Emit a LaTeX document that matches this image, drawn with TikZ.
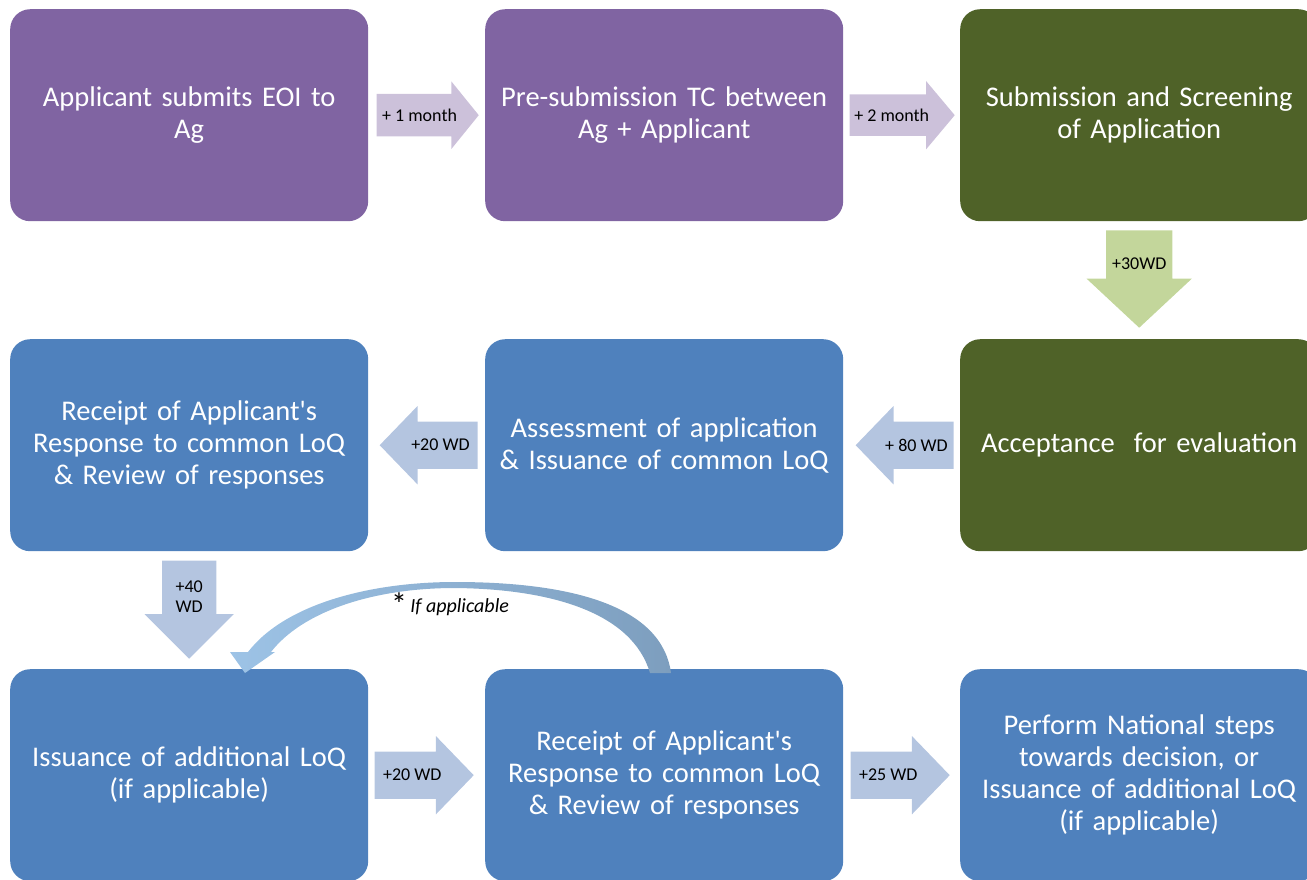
\documentclass[tikz,border=0pt]{standalone}
\usepackage{fontspec}
\setmainfont{Carlito}
\usetikzlibrary{matrix,positioning,calc,shapes.arrows}

\definecolor{stagepurple}{HTML}{8064A2}
\definecolor{stagegreen}{HTML}{4F6228}
\definecolor{stageblue}{HTML}{4F81BD}
\definecolor{stepPurple}{HTML}{CCC1DA}
\definecolor{stepGreen}{HTML}{C3D69B}
\definecolor{stepBlue}{HTML}{B4C5E0}
\definecolor{loopLeft}{HTML}{9DC3E6}
\definecolor{loopRight}{HTML}{7D9EBE}

\tikzset{
  stagebox/.style={rounded corners=20pt, minimum width=358pt, minimum height=212pt,
    text width=344pt, align=center, text=white, inner sep=0pt, anchor=center,
    font=\fontsize{28.5}{32}\selectfont},
  steparrow/.style={single arrow, anchor=tip},
  steplabel/.style={align=center, text=black, inner sep=0pt,
    font=\fontsize{18}{20}\selectfont}
}

\begin{document}
\begin{tikzpicture}[x=1pt, y=-1pt]
  \useasboundingbox (0,0) rectangle (1307,880);
  \matrix(flow)[matrix of nodes, anchor=north west, inner sep=0pt, nodes={stagebox},
      column sep=117pt, row sep=118pt] at (10,9)
  {
    |[fill=stagepurple]| {Applicant submits EOI to\\Ag} &
    |[fill=stagepurple]| {Pre-submission TC between\\Ag + Applicant} &
    |[fill=stagegreen]| {Submission and Screening\\of Application} \\
    |[fill=stageblue]| {Receipt of Applicant\textquotesingle s\\Response to common LoQ\\\& Review of responses} &
    |[fill=stageblue]| {Assessment of application\\\& Issuance of common LoQ} &
    |[fill=stagegreen]| {Acceptance \ for evaluation} \\
    |[fill=stageblue]| {Issuance of additional LoQ\\(if applicable)} &
    |[fill=stageblue]| {Receipt of Applicant\textquotesingle s\\Response to common LoQ\\\& Review of responses} &
    |[fill=stageblue]| {Perform National steps\\towards decision, or\\Issuance of additional LoQ\\(if applicable)} \\
  };
  % timing arrows
  \node[steparrow, fill=stepPurple, inner sep=21pt, minimum height=102pt,
    single arrow head extend=12.5pt, single arrow tip angle=102]
    (a1) at ([xshift=-6pt]flow-1-2.west) {};
  \node[steparrow, fill=stepPurple, inner sep=20.5pt, minimum height=105pt,
    single arrow head extend=13.5pt, single arrow tip angle=100]
    (a2) at ([xshift=-5pt]flow-1-3.west) {};
  \node[steparrow, fill=stepGreen, inner sep=33pt, minimum height=97pt,
    single arrow head extend=19.5pt, single arrow tip angle=94, shape border rotate=270]
    (a3) at ([yshift=11pt]flow-2-3.north) {};
  \node[steparrow, fill=stepBlue, inner sep=23.5pt, minimum height=98pt,
    single arrow head extend=15.5pt, single arrow tip angle=92, shape border rotate=180]
    (a4) at ([xshift=11pt]flow-2-1.east) {};
  \node[steparrow, fill=stepBlue, inner sep=23.5pt, minimum height=98pt,
    single arrow head extend=15.5pt, single arrow tip angle=92, shape border rotate=180]
    (a5) at ([xshift=12pt]flow-2-2.east) {};
  \node[steparrow, fill=stepBlue, inner sep=27pt, minimum height=98pt,
    single arrow head extend=17.5pt, single arrow tip angle=90, shape border rotate=270]
    (a6) at ([yshift=10pt]flow-3-1.north) {};
  \node[steparrow, fill=stepBlue, inner sep=23.5pt, minimum height=99pt,
    single arrow head extend=15.5pt, single arrow tip angle=92]
    (a7) at ([xshift=-11pt]flow-3-2.west) {};
  \node[steparrow, fill=stepBlue, inner sep=23.5pt, minimum height=99pt,
    single arrow head extend=15.5pt, single arrow tip angle=92]
    (a8) at ([xshift=-10pt]flow-3-3.west) {};
  % labels on the arrows
  \node[steplabel] (l1) at ($(a1.tail)!0.42!(a1.tip)$) {+ 1 month};
  \node[steplabel] (l2) at ($(a2.tail)!0.4!(a2.tip)$) {+ 2 month};
  \node[steplabel] (l3) at ($(a3.tail)!0.34!(a3.tip)$) {+30WD};
  \node[steplabel] (l4) at ($(a4.tail)!0.38!(a4.tip)$) {+20 WD};
  \node[steplabel] (l5) at ($(a5.tail)!0.38!(a5.tip)$) {+ 80 WD};
  \node[steplabel] (l6) at ($(a6.tail)!0.37!(a6.tip)$) {+40\\WD};
  \node[steplabel] (l7) at ($(a7.tail)!0.38!(a7.tip)$) {+20 WD};
  \node[steplabel] (l8) at ($(a8.tail)!0.38!(a8.tip)$) {+25 WD};
  % loop back arrow
  \shade[left color=loopLeft, right color=loopRight]
    (650,673) .. controls (632,612) and (550,589) .. (455,588)
    .. controls (372,588) and (302,612) .. (271,652)
    -- (275,652) -- (245,673) -- (230,652) -- (248,652)
    .. controls (285,604) and (370,582) .. (455,582)
    .. controls (572,582) and (662,606) .. (671,673) -- cycle;
  \node[font=\fontsize{20}{20}\selectfont, inner sep=0pt] (loopnote) at (450,604)
    {\raisebox{-3pt}{\fontsize{32}{20}\selectfont *}\,\textit{If applicable}};
\end{tikzpicture}
\end{document}
